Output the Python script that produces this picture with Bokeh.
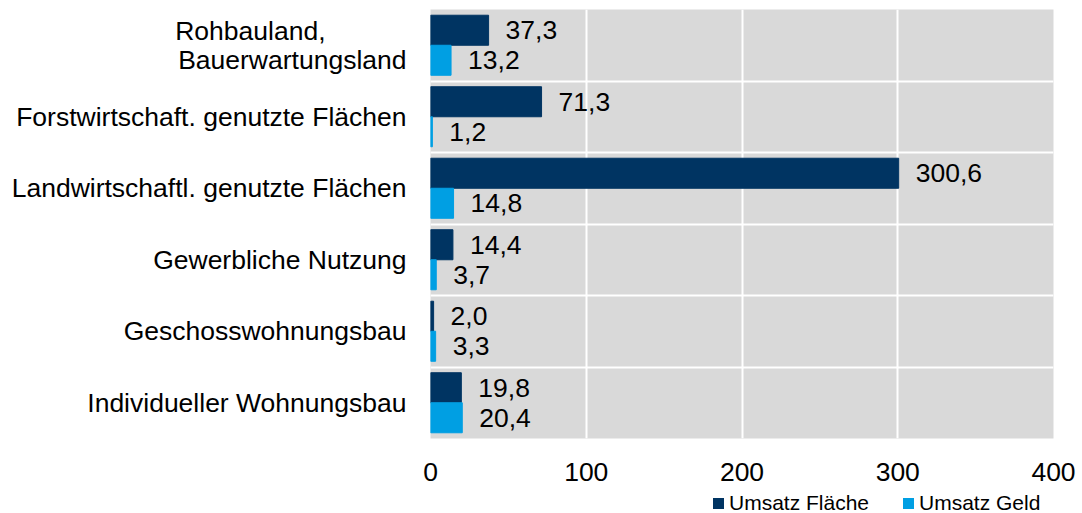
from bokeh.plotting import figure
from bokeh.layouts import column
from bokeh.models import Range1d, FixedTicker, ColumnDataSource, Div
from bokeh.core.properties import value
from bokeh.embed import file_html
from bokeh.resources import INLINE

categories = ["Rohbauland,\nBauerwartungsland", "Forstwirtschaft. genutzte Flächen",
              "Landwirtschaftl. genutzte Flächen", "Gewerbliche Nutzung",
              "Geschosswohnungsbau", "Individueller Wohnungsbau"]
umsatz_flaeche = [37.3, 71.3, 300.6, 14.4, 2.0, 19.8]
umsatz_geld = [13.2, 1.2, 14.8, 3.7, 3.3, 20.4]
x_ticks = [0, 100, 200, 300, 400]
series_names = ["Umsatz Fläche", "Umsatz Geld"]

DARK = "#003462"
LIGHT = "#009FE3"
FONT = "Liberation Sans"

n = len(categories)
ypos = [n - 1 - i for i in range(n)]

def fmt(v):
    return f"{v:.1f}".replace(".", ",")

def left_block(label):
    # pad shorter lines with no-break spaces so the two-line label reads left-aligned
    lines = label.split("\n")
    if len(lines) == 1:
        return label
    return lines[0] + "\u00a0" * 11 + "\n" + lines[1]

src = ColumnDataSource(dict(
    y=ypos,
    yd=[y + 0.21 for y in ypos],
    yl=[y - 0.21 for y in ypos],
    f=umsatz_flaeche,
    g=umsatz_geld,
    fl=[fmt(v) for v in umsatz_flaeche],
    gl=[fmt(v) for v in umsatz_geld],
))

p = figure(width=1082, height=492, output_backend="svg", toolbar_location=None,
           x_range=Range1d(0, 400), y_range=Range1d(-0.5, n - 0.5))
p.min_border_left = 430
p.min_border_right = 29
p.min_border_top = 9
p.min_border_bottom = 54
p.outline_line_color = None
p.background_fill_color = "#D9D9D9"
p.border_fill_color = "white"

p.hbar(y="yd", right="f", left=0, height=0.42, source=src, color=DARK)
p.hbar(y="yl", right="g", left=0, height=0.42, source=src, color=LIGHT)

p.text(x="f", y="yd", text="fl", source=src, x_offset=17, text_baseline="middle",
       text_align="left", text_font=value(FONT), text_font_size="26.5px", text_color="black")
p.text(x="g", y="yl", text="gl", source=src, x_offset=17, text_baseline="middle",
       text_align="left", text_font=value(FONT), text_font_size="26.5px", text_color="black")

# axes
p.xaxis.ticker = FixedTicker(ticks=x_ticks)
p.xaxis.major_label_text_font = FONT
p.xaxis.major_label_text_font_size = "26.5px"
p.xaxis.major_label_text_color = "black"
p.xaxis.axis_line_color = None
p.xaxis.major_tick_line_color = None
p.xaxis.minor_tick_line_color = None
p.xaxis.major_label_standoff = 18

p.yaxis.ticker = FixedTicker(ticks=ypos)
p.yaxis.major_label_overrides = {y: left_block(c) for y, c in zip(ypos, categories)}
p.yaxis.major_label_text_font = FONT
p.yaxis.major_label_text_font_size = "26.5px"
p.yaxis.major_label_text_color = "black"
p.yaxis.major_label_text_line_height = 0.95
p.yaxis.axis_line_color = None
p.yaxis.major_tick_line_color = None
p.yaxis.minor_tick_line_color = None
p.yaxis.major_label_standoff = 18

p.xgrid.ticker = FixedTicker(ticks=x_ticks)
p.xgrid.grid_line_color = "white"
p.xgrid.grid_line_width = 2
p.ygrid.ticker = FixedTicker(ticks=[y + 0.5 for y in range(n - 1)])
p.ygrid.grid_line_color = "white"
p.ygrid.grid_line_width = 2

# legend strip below the chart
legend_left = [713, 903]
parts = []
for name, col, lx in zip(series_names, [DARK, LIGHT], legend_left):
    parts.append(
        f'<span style="position:absolute;left:{lx}px;top:6px;width:11px;height:11px;'
        f'background:{col};"></span>'
        f'<span style="position:absolute;left:{lx + 16}px;top:0px;line-height:21px;'
        f'white-space:nowrap;">{name}</span>'
    )
html = (f'<div style="position:relative;width:1082px;height:21px;font-family:\'{FONT}\';'
        f'font-size:21px;color:black;">' + "".join(parts) + '</div>')
legend_div = Div(text=html, width=1082, height=21, margin=0)

layout = column(p, legend_div, spacing=0)
open("out.html", "w").write(file_html(layout, INLINE))
